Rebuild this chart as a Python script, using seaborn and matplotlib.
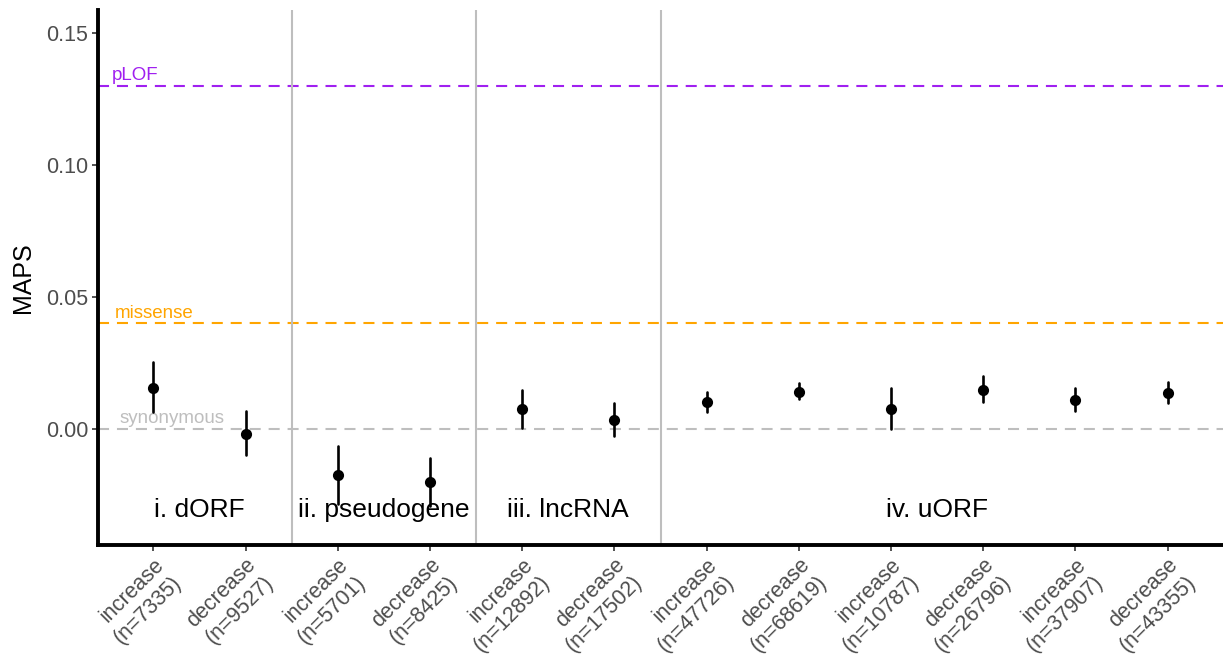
import matplotlib
matplotlib.use("Agg")
import matplotlib.pyplot as plt
import seaborn as sns
import pandas as pd

# ---- data ----
directions = ["increase", "decrease"] * 6
counts = [7335, 9527, 5701, 8425, 12892, 17502, 47726, 68619, 10787, 26796, 37907, 43355]
maps = [0.0157, -0.0019, -0.0174, -0.0202, 0.0075, 0.0034,
        0.0101, 0.0141, 0.0075, 0.0148, 0.0109, 0.0135]
lower = [0.0066, -0.0098, -0.0284, -0.0290, 0.0005, -0.0025,
         0.0066, 0.0114, 0.0000, 0.0101, 0.0069, 0.0100]
upper = [0.0255, 0.0069, -0.0064, -0.0109, 0.0148, 0.0097,
         0.0141, 0.0175, 0.0156, 0.0201, 0.0154, 0.0177]
groups = ["i. dORF", "ii. pseudogene", "iii. lncRNA", "iv. uORF"]
group_sizes = [2, 2, 2, 6]
ref_names = ["pLOF", "missense", "synonymous"]
ref_values = [0.13, 0.04, 0.0]
ref_colors = ["#A020F0", "#FFA500", "#BEBEBE"]
yticks = [0.00, 0.05, 0.10, 0.15]

labels = [f"{d}\n(n={n})" for d, n in zip(directions, counts)]

rows = []
for lab, lo, m, hi in zip(labels, lower, maps, upper):
    for v in (lo, m, hi):
        rows.append({"label": lab, "MAPS": v})
df = pd.DataFrame(rows)

sns.set_theme(style="ticks")
plt.rcParams["font.family"] = ["Liberation Sans", "DejaVu Sans"]

fig = plt.figure(figsize=(12.23, 6.58), dpi=100)
ax = fig.add_axes([98 / 1223, 1 - 545 / 658, 1 - 98 / 1223, (545 - 10) / 658])

# reference dashed lines
for name, val, col in zip(ref_names, ref_values, ref_colors):
    ax.axhline(val, color=col, linestyle=(0, (5.3, 3.8)), linewidth=1.5, zorder=1)

# group separators
edges = []
pos = 0
for s in group_sizes[:-1]:
    pos += s
    edges.append(pos - 0.5)
for e in edges:
    ax.axvline(e, color="#BEBEBE", linewidth=1.5, zorder=1)

sns.pointplot(data=df, x="label", y="MAPS", order=labels, estimator="median",
              errorbar=("pi", 100), color="black", linestyle="none", markers="o",
              markersize=6, err_kws={"linewidth": 1.9}, ax=ax, zorder=3)

ax.set_xlim(-0.6, 11.6)
ax.set_ylim(-0.0439, 0.1587)
ax.set_yticks(yticks)
ax.set_yticklabels([f"{t:.2f}" for t in yticks])

# reference labels
ref_x = [-0.445, -0.42, -0.37]
for name, val, col, xx in zip(ref_names, ref_values, ref_colors, ref_x):
    ax.text(xx, val + 0.0022, name, color=col, fontsize=13.5, ha="left", va="baseline", zorder=2)

# group labels
start = 0
for g, s in zip(groups, group_sizes):
    center = start + (s - 1) / 2
    ax.text(center, -0.0333, g, fontsize=19, ha="center", va="baseline", color="black", zorder=4)
    start += s

ax.set_xlabel("")
ax.set_ylabel("MAPS", fontsize=18, color="black", labelpad=8)

for side in ["top", "right"]:
    ax.spines[side].set_visible(False)
for side in ["left", "bottom"]:
    ax.spines[side].set_linewidth(2.8)
    ax.spines[side].set_color("black")

ax.tick_params(axis="both", length=4, width=1.2, color="#333333", labelsize=15.5,
               labelcolor="#4D4D4D", pad=3)
ax.set_xticks(range(len(labels)))
ax.set_xticklabels(labels, rotation=45, ha="right", rotation_mode="anchor",
                   multialignment="right", fontsize=15.5)
ax.grid(False)

fig.savefig("out.png", dpi=100)
